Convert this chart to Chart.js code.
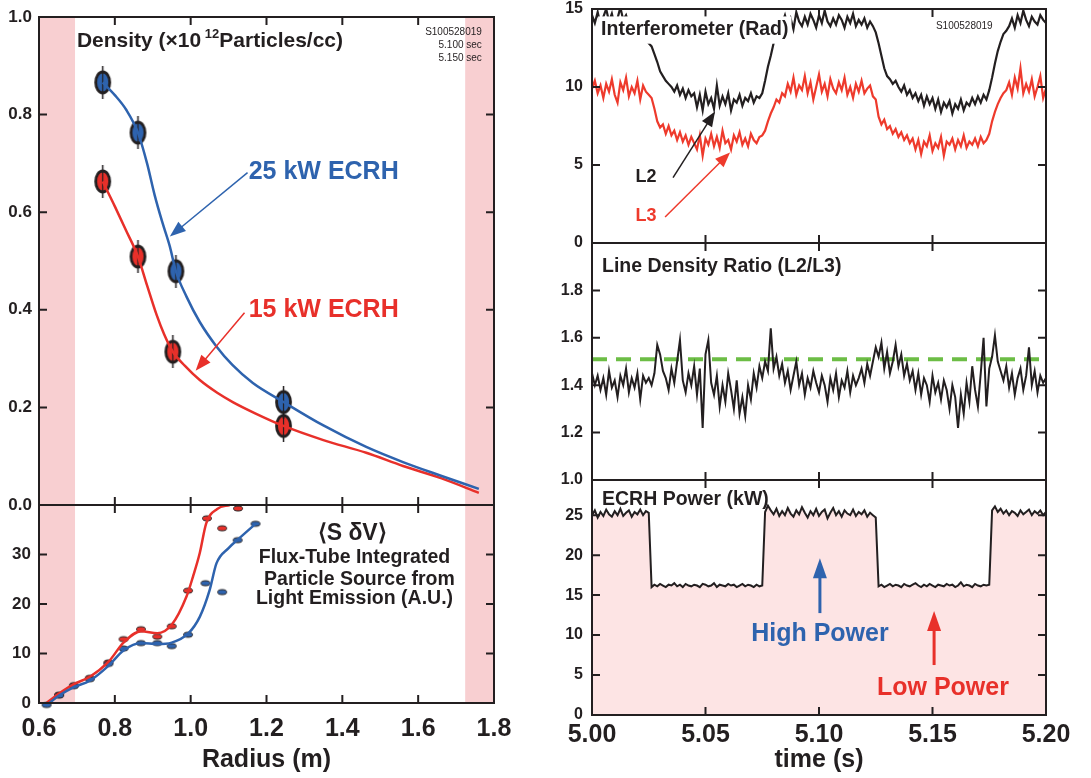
<!DOCTYPE html>
<html>
<head>
<meta charset="utf-8">
<script src="https://cdn.jsdelivr.net/npm/chart.js@4.4.0/dist/chart.umd.min.js"></script>
<style>
  html, body { margin: 0; padding: 0; background: #fff; }
  body { width: 1091px; height: 778px; position: relative; overflow: hidden; }
  .box { position: absolute; }
</style>
</head>
<body>
<div class="box" style="left:0;top:0;width:500px;height:520px"><canvas id="density"></canvas></div>
<div class="box" style="left:0;top:495px;width:541px;height:283px"><canvas id="source"></canvas></div>
<div class="box" style="left:550px;top:0;width:500px;height:255px"><canvas id="interf"></canvas></div>
<div class="box" style="left:550px;top:235px;width:500px;height:255px"><canvas id="ratio"></canvas></div>
<div class="box" style="left:550px;top:470px;width:541px;height:308px"><canvas id="power"></canvas></div>
<script>
// ---- tick labels ----
const radiusTicks = [0.6, 0.8, 1.0, 1.2, 1.4, 1.6, 1.8]
const densityTicks = [0, 0.2, 0.4, 0.6, 0.8, 1.0]
const sourceTicks = [0, 10, 20, 30]
const timeTicks = [5.00, 5.05, 5.10, 5.15, 5.20]
const interfTicks = [0, 5, 10, 15]
const ratioTicks = [1.0, 1.2, 1.4, 1.6, 1.8]
const powerTicks = [0, 5, 10, 15, 20, 25]

// ---- density profiles (x10^12 /cc) ----
const densityRadius25 = [0.768, 0.861, 0.961, 1.245]
const density25kW = [0.866, 0.763, 0.479, 0.211]
const densityRadius15 = [0.768, 0.861, 0.953, 1.245]
const density15kW = [0.663, 0.509, 0.314, 0.162]
const fitRadius25 = [0.768, 0.80, 0.83, 0.861, 0.885, 0.905, 0.925, 0.945, 0.961, 0.989, 1.024, 1.068, 1.11, 1.164, 1.245, 1.35, 1.463, 1.56, 1.66, 1.76]
const fit25kW = [0.866, 0.84, 0.81, 0.763, 0.70, 0.635, 0.58, 0.53, 0.479, 0.427, 0.375, 0.325, 0.287, 0.25, 0.211, 0.163, 0.119, 0.088, 0.06, 0.033]
const fitRadius15 = [0.768, 0.80, 0.83, 0.861, 0.885, 0.91, 0.93, 0.953, 0.985, 1.024, 1.07, 1.111, 1.17, 1.245, 1.35, 1.463, 1.56, 1.66, 1.76]
const fit15kW = [0.663, 0.612, 0.562, 0.509, 0.45, 0.39, 0.35, 0.314, 0.285, 0.256, 0.23, 0.211, 0.188, 0.162, 0.133, 0.107, 0.08, 0.055, 0.025]

// ---- flux-tube integrated source (A.U.) ----
const sourceRadius15 = [0.653, 0.692, 0.734, 0.783, 0.823, 0.869, 0.912, 0.95, 0.993, 1.043, 1.083, 1.125]
const source15kW = [1.7, 3.6, 5.1, 8.2, 12.9, 14.9, 13.4, 15.5, 22.7, 37.3, 35.3, 39.3]
const sourceRadius25 = [0.62, 0.653, 0.692, 0.734, 0.783, 0.823, 0.869, 0.912, 0.95, 0.993, 1.039, 1.083, 1.124, 1.171]
const source25kW = [-0.4, 1.5, 3.4, 4.8, 7.9, 11.0, 12.1, 12.1, 11.5, 13.8, 24.2, 22.4, 32.9, 36.2]
const sourceFitRadius15 = [0.62, 0.653, 0.692, 0.734, 0.783, 0.823, 0.869, 0.912, 0.95, 0.989, 1.006, 1.024, 1.041, 1.07, 1.103]
const sourceFit15kW = [0, 1.9, 3.8, 5.3, 8.3, 12.2, 14.5, 14.1, 15.8, 21.5, 25.5, 30.3, 36.3, 39.2, 40]
const sourceFitRadius25 = [0.62, 0.653, 0.692, 0.734, 0.783, 0.823, 0.869, 0.912, 0.95, 0.993, 1.024, 1.05, 1.068, 1.1, 1.124, 1.171]
const sourceFit25kW = [-0.5, 1.5, 3.2, 4.5, 7.5, 10.6, 12.1, 11.9, 12.2, 14.0, 17.4, 22.8, 28.2, 31.3, 33.0, 36.2]

// ---- time traces, sampled every 1.25 ms from 5.000 s ----
const sampleStart = 5.0
const sampleStep = 0.00125
const l3Rad = [
  9.9, 10.4, 9.6, 10.1, 9.3, 10.2, 9.7, 10.5, 9.5, 9.0, 10.3, 9.8, 10.6, 9.4, 10.0, 9.6, 10.4, 9.2, 10.1, 9.7, 9.5, 9.3,
  8.6, 7.8, 7.4,
  7.6, 7.0, 7.5, 6.9, 7.2, 6.6, 7.1, 6.5, 6.9, 6.3, 6.8, 6.4,
  6.0, 6.9, 5.6, 6.7, 6.3, 7.0, 6.2, 6.8, 6.1, 7.2, 6.4, 6.6, 6.0, 6.9, 6.5, 7.1, 6.3, 6.7, 6.2, 7.0, 6.6, 6.4, 6.8, 6.9,
  7.2, 7.8, 8.3, 8.7, 9.2, 9.0, 9.6,
  9.4, 10.2, 9.7, 10.6, 9.5, 10.1, 9.8, 10.7, 9.6, 10.3, 9.2, 10.0, 10.8, 9.7, 10.2, 9.4, 10.5, 9.9, 9.6, 10.3, 9.8, 10.6, 9.5, 10.0, 9.3, 10.2, 9.7, 10.4, 9.6, 9.9, 10.1, 9.4,
  9.2, 8.1, 7.6, 7.9, 7.3, 7.5, 7.0, 7.3, 6.8, 7.1, 6.6, 6.9, 6.4, 6.7,
  6.0, 6.6, 5.7, 6.5, 6.2, 6.9, 5.9, 6.4, 6.1, 6.8, 5.6, 6.5, 6.3, 6.7, 6.0, 6.6, 6.2, 6.9, 6.1, 6.5, 6.3, 6.7, 6.2, 6.8, 6.4, 6.6,
  7.0, 7.8, 8.4, 8.9, 9.3, 9.6,
  9.8, 10.3, 9.5, 10.6, 9.9, 11.2, 9.6, 10.2, 9.7, 10.5, 9.4, 10.0, 10.7, 9.3, 9.9
]
const l2Rad = [
  14.6, 14.1, 14.8, 14.0, 14.5, 15.0, 14.2, 14.7, 13.9, 14.4, 15.1, 14.3, 14.6, 14.0,
  14.2, 13.8, 13.9, 13.4, 13.5, 13.0, 12.8, 12.6,
  12.1, 11.6, 11.0, 10.7, 10.4, 10.2,
  10.0, 9.7, 10.1, 9.5, 9.9, 9.3, 9.8, 9.4, 9.6,
  8.7, 9.5, 8.5, 9.7, 8.9, 9.3, 8.6, 10.1, 8.8, 9.4, 8.9, 9.6, 8.5, 9.2, 9.0, 9.5, 8.8, 9.3, 9.1, 9.6, 9.0, 9.4, 9.3,
  9.6, 10.4, 11.3, 12.0, 12.8, 13.4, 13.8,
  14.1, 14.6, 13.9, 14.4, 13.7, 14.8, 14.2, 13.9, 14.5, 14.0, 14.7, 14.3, 13.8, 14.6, 14.1, 14.9, 14.2, 13.9, 14.4, 14.0, 14.6, 14.3, 13.8, 14.5, 14.1, 14.7, 13.9, 14.3, 14.0, 14.4, 13.8, 14.2, 13.9,
  13.5, 12.8, 12.0, 11.2, 10.7, 10.5, 10.2, 10.4,
  10.0, 9.7, 10.1, 9.5, 9.8, 9.3, 9.6, 9.1, 9.5, 8.8, 9.4, 8.9, 9.3, 8.6, 9.2, 8.4, 9.0, 8.7, 9.1, 8.3, 8.9, 8.6, 9.2, 8.5, 9.0, 8.8, 9.3, 8.9, 9.4, 9.0, 9.5, 9.2,
  9.8, 10.6, 11.5, 12.3, 12.9, 13.4, 13.6,
  13.9, 14.4, 13.8, 14.6, 14.1, 14.9, 14.3, 13.9, 14.5, 14.2, 14.0, 14.6, 14.3, 14.1
]
const lineRatio = [
  1.45, 1.40, 1.44, 1.38, 1.43, 1.36, 1.46, 1.39, 1.42, 1.35, 1.44, 1.40, 1.47, 1.37, 1.43, 1.39, 1.45, 1.34, 1.44, 1.41,
  1.43, 1.40, 1.45, 1.57, 1.53, 1.46, 1.43, 1.38, 1.47, 1.41, 1.50,
  1.59,
  1.42, 1.37, 1.45, 1.40, 1.48, 1.36, 1.47,
  1.22,
  1.53, 1.59, 1.41,
  1.36, 1.44, 1.31, 1.40, 1.33, 1.45, 1.38, 1.30, 1.42, 1.28, 1.35, 1.27, 1.40, 1.34,
  1.45, 1.39, 1.48, 1.43, 1.50, 1.46,
  1.64,
  1.47, 1.52, 1.44, 1.49, 1.41, 1.46, 1.38, 1.44, 1.50, 1.40, 1.45, 1.36, 1.43, 1.39, 1.46, 1.41,
  1.37, 1.44, 1.40, 1.33, 1.43, 1.38, 1.45, 1.35, 1.42, 1.39, 1.46, 1.37, 1.44, 1.40, 1.43, 1.47, 1.41, 1.49, 1.44, 1.50,
  1.56, 1.52, 1.58, 1.47, 1.54, 1.45, 1.50, 1.57, 1.48, 1.53, 1.44, 1.49, 1.42,
  1.46, 1.38, 1.45, 1.36, 1.43, 1.40, 1.33, 1.44, 1.37, 1.41, 1.34, 1.42, 1.38, 1.30, 1.40, 1.35,
  1.22,
  1.36, 1.28, 1.41, 1.33, 1.48, 1.38, 1.31, 1.45,
  1.60, 1.31, 1.47, 1.52, 1.61, 1.50,
  1.46, 1.42, 1.48, 1.39, 1.45, 1.36, 1.43, 1.47, 1.38, 1.44, 1.56, 1.40, 1.46, 1.37, 1.44, 1.41, 1.43
]
const ratioReference = 1.51
const ecrhPower = [
  25.0, 25.6, 24.7, 25.4, 24.9, 25.7, 25.1, 24.8, 25.5, 25.0, 25.8, 24.9, 25.3, 25.6, 24.8, 25.4, 25.1, 25.7, 25.0, 25.5, 25.3,
  16.0, 16.3, 16.1, 16.4, 16.2, 16.0, 16.3, 16.2, 16.5, 16.1, 16.3, 16.0, 16.4, 16.2, 16.1, 16.3, 16.2, 16.0, 16.4, 16.3,
  16.1, 16.2, 16.5, 16.0, 16.3, 16.2, 16.1, 16.4, 16.2, 16.3, 16.0, 16.2, 16.4, 16.1, 16.3, 16.2, 16.0, 16.3, 16.1, 16.2,
  25.4, 26.2, 25.6, 25.1, 25.8, 24.9, 25.5, 25.0, 25.9, 25.2, 24.8, 25.6, 25.1, 26.0, 25.3, 24.7, 25.5, 25.0, 25.8, 24.9,
  25.4, 25.7, 24.6, 25.3, 25.9, 25.0, 25.5, 24.8, 25.6, 25.2, 25.0, 25.7, 24.9, 25.4, 25.1, 25.6, 24.8, 25.3, 25.0, 24.7,
  16.1, 16.3, 16.0, 16.2, 16.4, 16.1, 16.3, 16.2, 16.0, 16.4, 16.2, 16.1, 16.3, 16.5, 16.2, 16.0, 16.3, 16.1, 16.4, 16.2,
  16.0, 16.3, 16.2, 16.1, 16.4, 16.2, 16.3, 16.0, 16.2, 16.6, 16.1, 16.3, 16.2, 16.0, 16.4, 16.2, 16.1, 16.3, 16.2, 16.3,
  25.6, 26.1, 25.4, 25.8, 25.2, 25.6, 25.0, 25.5, 25.3, 24.9, 25.6, 25.1, 25.4, 25.7, 25.0, 25.5, 25.2, 25.6, 25.0, 25.4
]

// ---- styling ----
const fontFamily = "'Liberation Sans', Arial, Helvetica, sans-serif"
const ink = "#231f20"
const blue = "#2e63ae"
const red = "#e8302a"
const traceRed = "#ee3a2c"
const green = "#6cbd45"
const bandPink = "#f8cfd1"
const powerPink = "#fde4e4"

Chart.defaults.font.family = fontFamily
Chart.defaults.color = ink
Chart.defaults.animation = false

const xy = (xs, ys) => xs.map((x, i) => ({ x: x, y: ys[i] }))
const sampled = (ys) => ys.map((y, i) => ({ x: sampleStart + i * sampleStep, y: y }))
const fixedTicks = (list) => (scale) => { scale.ticks = list.map((v) => ({ value: v })) }

function ovalMarker(fill, w, h, lineWidth, bar) {
  const c = document.createElement("canvas")
  const pad = bar ? 6 : 2
  c.width = w + 5
  c.height = h + 2 * pad
  const g = c.getContext("2d")
  const cx = c.width / 2
  const cy = c.height / 2
  g.strokeStyle = ink
  if (bar) {
    g.lineWidth = 1.5
    g.beginPath(); g.moveTo(cx, 0); g.lineTo(cx, c.height); g.stroke()
  }
  g.beginPath()
  g.ellipse(cx, cy, w / 2, h / 2, 0, 0, Math.PI * 2)
  g.fillStyle = fill
  g.fill()
  g.lineWidth = lineWidth
  g.stroke()
  if (bar) {
    g.lineWidth = 1.2
    g.beginPath(); g.moveTo(cx, cy - h / 2); g.lineTo(cx, cy + h / 2); g.stroke()
  }
  return c
}

function runFont(l, r) {
  return `${r.weight || l.weight || "bold"} ${r.size || l.size}px ${fontFamily}`
}

function drawLabel(ctx, px, py, l) {
  const runs = l.runs || [{ text: l.text }]
  ctx.save()
  ctx.textBaseline = "middle"
  ctx.textAlign = "left"
  const widths = runs.map((r) => { ctx.font = runFont(l, r); return ctx.measureText(r.text).width })
  const total = widths.reduce((s, w) => s + w, 0)
  let start = l.align === "center" ? px - total / 2 : l.align === "right" ? px - total : px
  if (l.background) {
    ctx.fillStyle = l.background
    ctx.fillRect(start - 3, py - l.size * 0.7, total + 6, l.size * 1.4)
  }
  ctx.fillStyle = l.color || ink
  runs.forEach((r, i) => {
    ctx.font = runFont(l, r)
    ctx.fillText(r.text, start, py + (r.dy || 0))
    start += widths[i]
  })
  ctx.restore()
}

function drawArrow(ctx, x1, y1, x2, y2, a) {
  const ang = Math.atan2(y2 - y1, x2 - x1)
  const hl = a.head || 14
  const hw = a.headWidth || 6
  const cos = Math.cos(ang), sin = Math.sin(ang)
  ctx.save()
  ctx.strokeStyle = a.color
  ctx.fillStyle = a.color
  ctx.lineWidth = a.width || 1.5
  ctx.beginPath()
  ctx.moveTo(x1, y1)
  ctx.lineTo(x2 - cos * hl * 0.8, y2 - sin * hl * 0.8)
  ctx.stroke()
  ctx.beginPath()
  ctx.moveTo(x2, y2)
  ctx.lineTo(x2 - cos * hl - sin * hw, y2 - sin * hl + cos * hw)
  ctx.lineTo(x2 - cos * hl + sin * hw, y2 - sin * hl - cos * hw)
  ctx.closePath()
  ctx.fill()
  ctx.restore()
}

// pink shaded radius bands behind the profiles
const bandsPlugin = {
  id: "bands",
  beforeDatasetsDraw(chart, args, opts) {
    if (!opts.ranges) return
    const { ctx, chartArea: a, scales } = chart
    ctx.save()
    ctx.fillStyle = opts.color
    opts.ranges.forEach(([r0, r1]) => {
      const x0 = scales.x.getPixelForValue(r0)
      const x1 = scales.x.getPixelForValue(r1)
      ctx.fillRect(x0, a.top, x1 - x0, a.bottom - a.top)
    })
    ctx.restore()
  },
}

// frame plus inward tick marks on all four sides
const framePlugin = {
  id: "frame",
  afterDatasetsDraw(chart, args, opts) {
    const { ctx, chartArea: a, scales } = chart
    const len = 8
    ctx.save()
    ctx.strokeStyle = ink
    ctx.lineWidth = 2
    ctx.strokeRect(a.left, a.top, a.right - a.left, a.bottom - a.top)
    ctx.beginPath()
    ;(opts.xTicks || []).forEach((v) => {
      const x = scales.x.getPixelForValue(v)
      ctx.moveTo(x, a.top); ctx.lineTo(x, a.top + len)
      ctx.moveTo(x, a.bottom); ctx.lineTo(x, a.bottom - len)
    })
    ;(opts.yTicks || []).forEach((v) => {
      const y = scales.y.getPixelForValue(v)
      ctx.moveTo(a.left, y); ctx.lineTo(a.left + len, y)
      ctx.moveTo(a.right, y); ctx.lineTo(a.right - len, y)
    })
    ctx.stroke()
    ctx.restore()
  },
}

// annotations placed in data coordinates
const notesPlugin = {
  id: "notes",
  afterDatasetsDraw(chart, args, opts) {
    const { ctx, scales } = chart
    const px = (v) => scales.x.getPixelForValue(v)
    const py = (v) => scales.y.getPixelForValue(v)
    ;(opts.arrows || []).forEach((a) => drawArrow(ctx, px(a.from[0]), py(a.from[1]), px(a.to[0]), py(a.to[1]), a))
    ;(opts.labels || []).forEach((l) => drawLabel(ctx, px(l.at[0]), py(l.at[1]), l))
  },
}

Chart.register(bandsPlugin, framePlugin, notesPlugin)

const noSidePadding = (s) => { s.paddingLeft = 0; s.paddingRight = 0 }

function yAxis(min, max, ticks, width, size, digits, padding) {
  return {
    min: min,
    max: max,
    afterBuildTicks: fixedTicks(ticks),
    afterFit: (s) => { s.width = width; s.paddingTop = 0; s.paddingBottom = 0 },
    grid: { display: false, drawTicks: false },
    border: { display: false },
    ticks: { padding: padding, font: { size: size, weight: "bold" }, callback: (v) => v.toFixed(digits) },
  }
}

function xAxis(min, max, ticks, shown, height, digits, title, padding) {
  if (!shown) {
    return { type: "linear", min: min, max: max, display: false, afterBuildTicks: fixedTicks(ticks), afterFit: noSidePadding }
  }
  return {
    type: "linear",
    min: min,
    max: max,
    afterBuildTicks: fixedTicks(ticks),
    afterFit: (s) => { s.height = height; noSidePadding(s) },
    grid: { display: false, drawTicks: false },
    border: { display: false },
    ticks: { padding: padding, maxRotation: 0, autoSkip: false, font: { size: 25, weight: "bold" }, callback: (v) => v.toFixed(digits) },
    title: { display: true, text: title, font: { size: 25, weight: "bold" }, padding: { top: 0, bottom: 3 } },
  }
}

function baseOptions(padding, scales, plugins) {
  return {
    responsive: true,
    maintainAspectRatio: false,
    animation: false,
    events: [],
    layout: { padding: padding, autoPadding: false },
    scales: scales,
    plugins: Object.assign({ legend: { display: false }, tooltip: { enabled: false } }, plugins),
  }
}

const curve = (data, color) => ({
  data: data, showLine: true, borderColor: color, borderWidth: 2.5, pointRadius: 0,
  cubicInterpolationMode: "monotone", clip: false,
})
const markers = (data, style) => ({ data: data, showLine: false, pointStyle: style, pointRadius: 8, clip: false })
const trace = (data, color, width) => ({
  data: data, showLine: true, borderColor: color, borderWidth: width, pointRadius: 0, tension: 0,
})

// ---- left: density profiles ----
new Chart(document.getElementById("density"), {
  type: "scatter",
  data: {
    datasets: [
      curve(xy(fitRadius25, fit25kW), blue),
      curve(xy(fitRadius15, fit15kW), red),
      markers(xy(densityRadius25, density25kW), ovalMarker(blue, 14, 21, 2.8, true)),
      markers(xy(densityRadius15, density15kW), ovalMarker(red, 14, 21, 2.8, true)),
    ],
  },
  options: baseOptions(
    { top: 17, right: 6, bottom: 15, left: 0 },
    { x: xAxis(0.6, 1.8, radiusTicks, false), y: yAxis(0, 1.0, densityTicks, 39, 17, 1, 7) },
    {
      bands: { ranges: [[0.6, 0.695], [1.724, 1.8]], color: bandPink },
      frame: { xTicks: radiusTicks.slice(1, -1), yTicks: densityTicks },
      notes: {
        arrows: [
          { from: [1.150, 0.681], to: [0.945, 0.550], color: blue, width: 1.5, head: 16, headWidth: 6 },
          { from: [1.142, 0.394], to: [1.013, 0.275], color: red, width: 1.5, head: 16, headWidth: 6 },
        ],
        labels: [
          { at: [0.70, 0.95], size: 21, runs: [{ text: "Density (\u00d710" }, { text: " 12", size: 13, dy: -7 }, { text: "Particles/cc)" }] },
          { at: [1.768, 0.969], size: 10, weight: "normal", align: "right", text: "S100528019" },
          { at: [1.768, 0.943], size: 10, weight: "normal", align: "right", text: "5.100 sec" },
          { at: [1.768, 0.915], size: 10, weight: "normal", align: "right", text: "5.150 sec" },
          { at: [1.153, 0.683], size: 25, color: blue, text: "25 kW ECRH" },
          { at: [1.153, 0.400], size: 25, color: red, text: "15 kW ECRH" },
        ],
      },
    }
  ),
})

// ---- left: particle source ----
new Chart(document.getElementById("source"), {
  type: "scatter",
  data: {
    datasets: [
      curve(xy(sourceFitRadius25, sourceFit25kW), blue),
      curve(xy(sourceFitRadius15, sourceFit15kW), red),
      markers(xy(sourceRadius25, source25kW), ovalMarker(blue, 9, 5, 1, false)),
      markers(xy(sourceRadius15, source15kW), ovalMarker(red, 9, 5, 1, false)),
    ],
  },
  options: baseOptions(
    { top: 10, right: 47, bottom: 0, left: 0 },
    { x: xAxis(0.6, 1.8, radiusTicks, true, 75, 1, "Radius (m)", 11), y: yAxis(0, 40, sourceTicks, 39, 17, 0, 8) },
    {
      bands: { ranges: [[0.6, 0.695], [1.724, 1.8]], color: bandPink },
      frame: { xTicks: radiusTicks.slice(1, -1), yTicks: sourceTicks },
      notes: {
        labels: [
          { at: [1.426, 34.3], size: 23, align: "center", text: "\u27e8S \u03b4V\u27e9" },
          { at: [1.432, 29.3], size: 19.5, align: "center", text: "Flux-Tube Integrated" },
          { at: [1.445, 25.0], size: 19.5, align: "center", text: "Particle Source from" },
          { at: [1.432, 21.0], size: 19.5, align: "center", text: "Light Emission (A.U.)" },
        ],
      },
    }
  ),
})

// ---- right: interferometer ----
new Chart(document.getElementById("interf"), {
  type: "scatter",
  data: { datasets: [trace(sampled(l3Rad), traceRed, 2.2), trace(sampled(l2Rad), ink, 2.2)] },
  options: baseOptions(
    { top: 9, right: 4, bottom: 12, left: 0 },
    { x: xAxis(5.0, 5.2, timeTicks, false), y: yAxis(0, 15, interfTicks, 42, 16, 0, 9) },
    {
      frame: { xTicks: timeTicks.slice(1, -1), yTicks: interfTicks },
      notes: {
        arrows: [
          { from: [5.0357, 4.19], to: [5.0542, 8.43], color: ink, width: 1.5, head: 15, headWidth: 6 },
          { from: [5.0322, 1.67], to: [5.0608, 5.80], color: traceRed, width: 1.5, head: 15, headWidth: 6 },
        ],
        labels: [
          { at: [5.0040, 13.65], size: 19.5, background: "#fff", text: "Interferometer (Rad)" },
          { at: [5.1640, 13.9], size: 10, weight: "normal", align: "center", text: "S100528019" },
          { at: [5.0238, 4.25], size: 18, align: "center", text: "L2" },
          { at: [5.0238, 1.74], size: 18, align: "center", color: traceRed, text: "L3" },
        ],
      },
    }
  ),
})

// ---- right: line density ratio ----
new Chart(document.getElementById("ratio"), {
  type: "scatter",
  data: {
    datasets: [
      trace(sampled(lineRatio), ink, 2),
      Object.assign(trace(xy([timeTicks[0], timeTicks[timeTicks.length - 1]], [ratioReference, ratioReference]), green, 4), { borderDash: [15, 9] }),
    ],
  },
  options: baseOptions(
    { top: 8, right: 4, bottom: 10, left: 0 },
    { x: xAxis(5.0, 5.2, timeTicks, false), y: yAxis(1.0, 2.0, ratioTicks, 42, 16, 1, 9) },
    {
      frame: { xTicks: timeTicks.slice(1, -1), yTicks: ratioTicks },
      notes: { labels: [{ at: [5.0044, 1.902], size: 19.5, text: "Line Density Ratio (L2/L3)" }] },
    }
  ),
})

// ---- right: ECRH power ----
new Chart(document.getElementById("power"), {
  type: "scatter",
  data: {
    datasets: [Object.assign(trace(sampled(ecrhPower), ink, 2), { fill: "origin", backgroundColor: powerPink })],
  },
  options: baseOptions(
    { top: 10, right: 45, bottom: 0, left: 0 },
    { x: xAxis(5.0, 5.2, timeTicks, true, 63, 2, "time (s)", 5), y: yAxis(0, 29.4, powerTicks, 42, 16, 0, 9) },
    {
      filler: { propagate: false },
      frame: { xTicks: timeTicks.slice(1, -1), yTicks: powerTicks },
      notes: {
        arrows: [
          { from: [5.1004, 12.75], to: [5.1004, 19.6], color: blue, width: 3, head: 20, headWidth: 7 },
          { from: [5.1507, 6.25], to: [5.1507, 13.0], color: red, width: 3, head: 20, headWidth: 7 },
        ],
        labels: [
          { at: [5.0044, 26.9], size: 19.5, text: "ECRH Power (kW)" },
          { at: [5.1004, 10.1], size: 25, align: "center", color: blue, text: "High Power" },
          { at: [5.1546, 3.4], size: 25, align: "center", color: red, text: "Low Power" },
        ],
      },
    }
  ),
})
</script>
</body>
</html>
